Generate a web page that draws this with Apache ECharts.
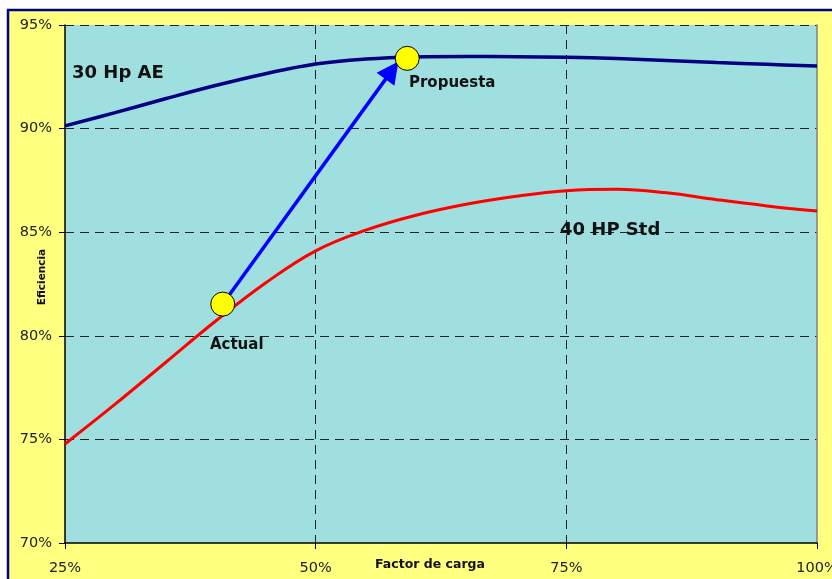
<!DOCTYPE html>
<html>
<head>
<meta charset="utf-8">
<script src="https://cdn.jsdelivr.net/npm/echarts@6/dist/echarts.min.js"></script>
<style>
  html, body { margin: 0; padding: 0; background: #ffffff; }
  #chart { width: 832px; height: 579px; }
</style>
</head>
<body>
<div id="chart"></div>
<script>
// Load factor (%) sampled every 5 %
const loadFactor = [25, 30, 35, 40, 45, 50, 55, 60, 65, 70, 75, 80, 85, 90, 95, 100];

// Efficiency (%) of the premium 30 Hp motor
const eff30HpAE = [90.13, 90.77, 91.44, 92.08, 92.65, 93.12, 93.36, 93.46, 93.48, 93.47, 93.44, 93.38, 93.29, 93.19, 93.10, 93.02];

// Efficiency (%) of the standard 40 HP motor
const eff40HpStd = [74.78, 76.70, 78.70, 80.70, 82.55, 84.10, 85.10, 85.82, 86.35, 86.73, 87.00, 87.07, 86.90, 86.57, 86.27, 86.02];

// Operating points [load %, efficiency %]
const pointActual = [40.73, 81.53];
const pointPropuesta = [59.13, 93.39];
// Centre of the arrow head, just short of the "Propuesta" marker
const arrowHead = [57.61, 92.81];

const xTicks = [25, 50, 75, 100];
const yTicks = [70, 75, 80, 85, 90, 95];

const labelFont = 'DejaVu Sans';
const dash = [9, 6];

const chart = echarts.init(document.getElementById('chart'), null, { renderer: 'canvas' });

const option = {
  animation: false,
  backgroundColor: '#ffffff',
  graphic: [
    {
      type: 'rect',
      z: -10,
      silent: true,
      shape: { x: 8, y: 10, width: 900, height: 700 },
      style: { fill: '#FFFF80', stroke: '#000080', lineWidth: 2.5 }
    },
    {
      type: 'text',
      left: 72, top: 64, z: 50,
      style: { text: '30 Hp AE', font: 'bold 18px "DejaVu Sans"', fill: '#111111' }
    },
    {
      type: 'text',
      left: 560, top: 221, z: 50,
      style: { text: '40 HP Std', font: 'bold 18px "DejaVu Sans"', fill: '#111111' }
    }
  ],
  grid: {
    left: 65, top: 25, right: 15, bottom: 36,
    outerBoundsMode: 'none',
    containLabel: false,
    show: true,
    backgroundColor: '#A0DFDF',
    borderWidth: 0
  },
  xAxis: {
    type: 'value',
    min: xTicks[0],
    max: xTicks[xTicks.length - 1],
    interval: 25,
    name: 'Factor de carga',
    nameLocation: 'middle',
    nameGap: 15,
    nameMoveOverlap: false,
    nameTextStyle: {
      fontFamily: labelFont, fontWeight: 'bold', fontSize: 12.5, color: '#111111',
      padding: [0, 22, 0, 0]
    },
    axisLine: { show: true, lineStyle: { color: '#000000', width: 1.5 } },
    axisTick: { show: true, length: 6, lineStyle: { color: '#000000' } },
    axisLabel: {
      margin: 18,
      fontFamily: labelFont, fontSize: 14.5, color: '#222222',
      formatter: v => v + '%'
    },
    splitLine: {
      show: true,
      showMinLine: false,
      showMaxLine: false,
      lineStyle: { color: '#222222', type: dash, width: 1 }
    }
  },
  yAxis: [
    {
      type: 'value',
      min: yTicks[0],
      max: yTicks[yTicks.length - 1],
      interval: 5,
      name: 'Eficiencia',
      nameLocation: 'middle',
      nameGap: 17,
      nameMoveOverlap: false,
      nameTextStyle: {
        fontFamily: labelFont, fontWeight: 'bold', fontSize: 10.5, color: '#111111',
        padding: [0, 0, 0, 14]
      },
      axisLine: { show: true, lineStyle: { color: '#000000', width: 1.5 } },
      axisTick: { show: true, length: 6, lineStyle: { color: '#000000' } },
      axisLabel: {
        margin: 13,
        fontFamily: labelFont, fontSize: 14.5, color: '#222222',
        formatter: v => v + '%'
      },
      splitLine: {
        show: true,
        showMinLine: false,
        lineStyle: {
          color: ['#222222', '#222222', '#222222', '#222222', '#222222', '#808080'],
          type: dash, width: 1
        }
      }
    },
    {
      type: 'value',
      position: 'right',
      min: yTicks[0],
      max: yTicks[yTicks.length - 1],
      interval: 5,
      axisLine: { show: true, lineStyle: { color: '#808080', width: 1.5 } },
      axisTick: { show: false },
      axisLabel: { show: false },
      splitLine: { show: false }
    }
  ],
  series: [
    {
      name: '30 Hp AE',
      type: 'line',
      data: loadFactor.map((x, i) => [x, eff30HpAE[i]]),
      smooth: 0.4,
      symbol: 'none',
      lineStyle: { color: '#000080', width: 3.5 },
      z: 3
    },
    {
      name: '40 HP Std',
      type: 'line',
      data: loadFactor.map((x, i) => [x, eff40HpStd[i]]),
      smooth: 0.4,
      symbol: 'none',
      lineStyle: { color: '#FF0000', width: 3 },
      z: 3
    },
    {
      name: 'Puntos',
      type: 'scatter',
      data: [
        {
          value: pointActual,
          label: { show: true, formatter: 'Actual', position: 'bottom', distance: 0, offset: [14, 21] }
        },
        {
          value: pointPropuesta,
          label: { show: true, formatter: 'Propuesta', position: 'bottom', distance: 0, offset: [45, 5] }
        }
      ],
      symbol: 'circle',
      symbolSize: 24,
      itemStyle: { color: '#FFFF00', borderColor: '#000000', borderWidth: 1, opacity: 1 },
      label: {
        fontFamily: labelFont, fontWeight: 'bold', fontSize: 15, color: '#111111'
      },
      markLine: {
        silent: true,
        z: 1,
        symbol: ['none', 'triangle'],
        symbolSize: [22, 22],
        lineStyle: { color: '#0000FF', width: 3.5, type: 'solid', opacity: 1 },
        label: { show: false },
        data: [[{ coord: pointActual }, { coord: arrowHead }]]
      },
      z: 5
    }
  ]
};

chart.setOption(option);
</script>
</body>
</html>
